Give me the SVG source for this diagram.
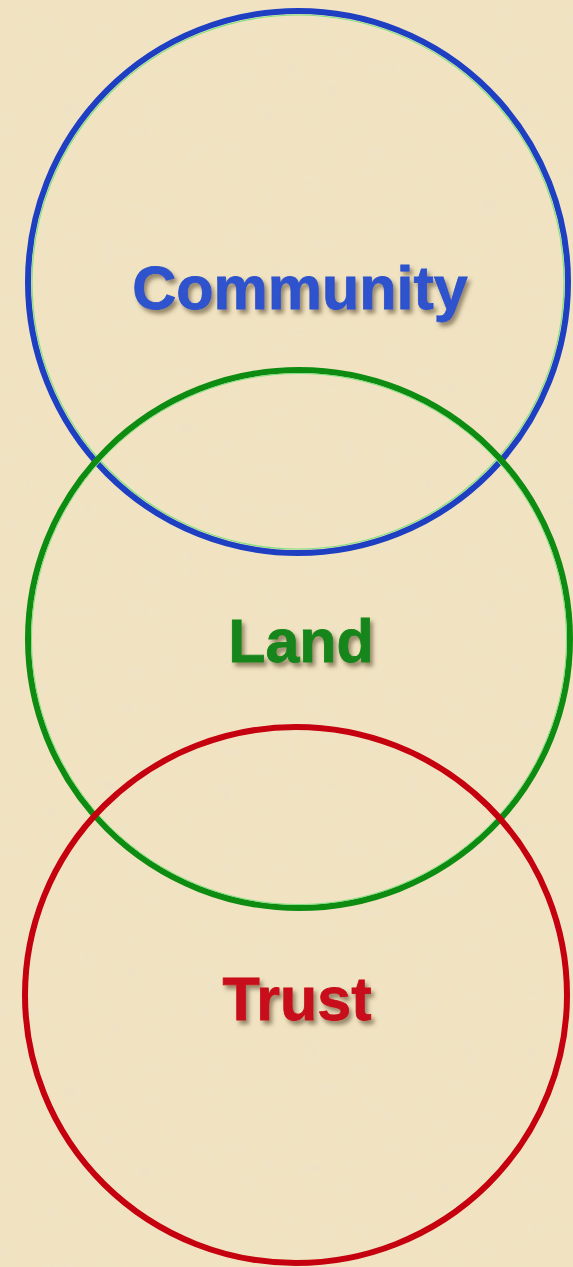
<svg xmlns="http://www.w3.org/2000/svg" width="573" height="1267" viewBox="0 0 573 1267">
<defs>
<filter id="paper" x="0" y="0" width="100%" height="100%">
<feTurbulence type="fractalNoise" baseFrequency="0.05" numOctaves="4" seed="3" result="n"/>
<feColorMatrix in="n" type="matrix" values="0 0 0 0 0.86  0 0 0 0 0.76  0 0 0 0 0.56  0 0 0 -2 1.1" result="c"/>
<feComposite in="c" in2="SourceGraphic" operator="over"/>
</filter>
<filter id="sh" x="-10%" y="-20%" width="130%" height="150%">
<feGaussianBlur in="SourceAlpha" stdDeviation="2"/>
<feOffset dx="3" dy="4" result="b"/>
<feFlood flood-color="#5a4a30" flood-opacity="0.6"/>
<feComposite in2="b" operator="in"/>
<feMerge><feMergeNode/><feMergeNode in="SourceGraphic"/></feMerge>
</filter>
</defs>
<style>
.lbl{font-family:"Liberation Sans",Arial,sans-serif;font-weight:bold;font-size:61px;text-anchor:middle;stroke-width:0.8}
.ring{fill:none;stroke-width:6}
</style>
<rect x="0" y="0" width="573" height="1267" fill="#f1e3c1" filter="url(#paper)"/>
<g id="community">
<ellipse class="ring" cx="298" cy="282" rx="270" ry="271" stroke="#1e3fc2"/>
<ellipse cx="298" cy="282" rx="266" ry="267" fill="none" stroke="#7fe07f" stroke-width="1.2"/>
<text class="lbl" x="300" y="309" fill="#2d52cc" stroke="#2d52cc" filter="url(#sh)">Community</text>
</g>
<g id="land">
<ellipse class="ring" cx="299" cy="639" rx="271" ry="269" stroke="#0e8c12"/>
<ellipse cx="299" cy="639" rx="267.5" ry="265.5" fill="none" stroke="#7fe07f" stroke-width="1"/>
<text class="lbl" x="301" y="662" fill="#14861a" stroke="#14861a" filter="url(#sh)">Land</text>
</g>
<g id="trust">
<ellipse class="ring" cx="296" cy="995" rx="271" ry="268" stroke="#c5000f"/>
<text class="lbl" x="297" y="1020" fill="#c80a1a" stroke="#c80a1a" filter="url(#sh)">Trust</text>
</g>
<g id="connectors"/>
</svg>
